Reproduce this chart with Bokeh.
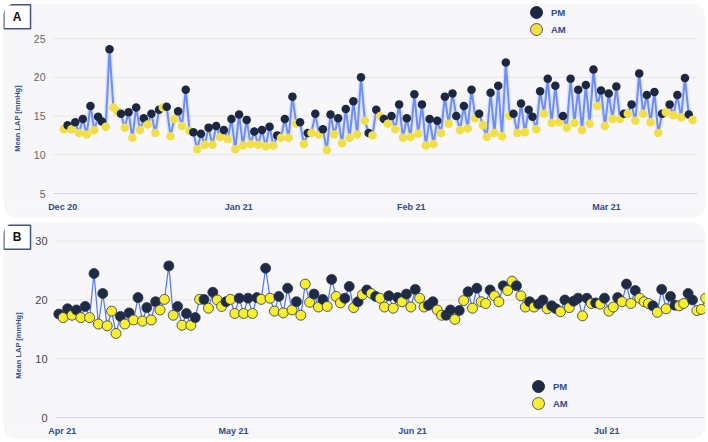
import math
from bokeh.plotting import figure
from bokeh.models import ColumnDataSource, Range1d, FixedTicker, Legend, LegendItem, Label
from bokeh.core.properties import value
from bokeh.layouts import column
from bokeh.embed import file_html
from bokeh.resources import INLINE

# ---------------- data ----------------
# Panel A (Dec 2020 - Mar 2021): sequence of readings, A = AM reading, P = PM reading
A_session = list("APAPAPAPAP" "PAPAAPAPAP" "APAPAPAPAA" "PAPAPAPAPA" "PAPAPAPAPA"
                 "PAPAPAPAPA" "PAPAPAPAPA" "PAPAPAPAPA" "PAPAPAPAPA" "PAPAPAPAPA"
                 "PAPPAPAPAP" "AAPAPAPAPA" "PAPPAPAPAP" "APAPAPAPAP" "APAPAPAPAP"
                 "APAPAPAPAP" "APAPPA")
A_lap = [13.3, 13.8, 13.3, 14.2, 12.8, 14.6, 12.6, 16.3, 13.2, 14.9,
         14.3, 13.6, 23.6, 16.1, 15.6, 15.3, 13.5, 15.5, 12.2, 16.1,
         13.2, 14.7, 13.9, 15.3, 12.8, 15.8, 16.1, 16.2, 12.4, 14.6,
         15.6, 13.7, 18.4, 13.1, 12.9, 10.7, 12.7, 11.3, 13.5, 11.3,
         13.7, 12.3, 13.2, 12.0, 14.6, 10.7, 15.2, 11.2, 14.5, 11.4,
         13.0, 11.3, 13.2, 11.1, 13.6, 11.2, 12.5, 12.2, 14.6, 12.2,
         17.5, 14.0, 14.2, 11.4, 12.8, 12.8, 15.3, 12.6, 13.3, 10.6,
         15.2, 12.6, 14.7, 11.5, 15.9, 12.2, 16.9, 12.6, 20.0, 14.4,
         12.8, 12.5, 15.8, 15.0, 14.6, 14.0, 15.0, 13.3, 16.5, 12.2,
         14.7, 12.3, 17.8, 12.7, 16.5, 11.2, 14.6, 11.4, 14.4, 12.8,
         17.5, 14.0, 17.9, 15.0, 13.2, 16.3, 13.4, 18.4, 14.7, 15.3,
         13.8, 12.3, 18.0, 12.8, 18.9, 12.4, 21.9, 15.0, 15.3, 12.8,
         16.6, 12.9, 15.8, 14.9, 13.3, 18.2, 15.3, 19.8, 14.1, 18.9,
         14.2, 15.0, 13.5, 19.8, 14.1, 18.4, 13.2, 19.0, 14.0, 21.0,
         16.3, 18.3, 13.7, 17.9, 14.6, 18.8, 14.6, 15.3, 15.3, 16.5,
         14.4, 20.5, 15.3, 17.7, 14.2, 18.1, 12.8, 15.3, 15.5, 16.5,
         15.1, 17.7, 14.8, 19.9, 15.2, 14.5]
A_tick_pos = [-0.3, 45.9, 91.2, 142.4]
A_tick_labels = ["Dec 20", "Jan 21", "Feb 21", "Mar 21"]
A_y_ticks = [5, 10, 15, 20, 25]

# Panel B (Apr 2021 - Jul 2021)
B_session = list("PAPAPAPAPA" "PAAAPAPAPA" "PAPAAPAPAP" "APAPAPAAPA" "APAPAPAPAA"
                 "PAPAPAAAPA" "PAPAAPPAPA" "PAPAAPAPAP" "APAAPPAAPP" "APAPAPAAPA"
                 "APAAPAAPAP" "PAPPAPAPPA" "PAPAPAAPAP" "APAAAPAPAP" "PAAPPAAA")
B_lap = [17.6, 17.0, 18.5, 17.4, 18.3, 17.0, 18.9, 17.0, 24.5, 15.9,
         21.1, 15.6, 18.1, 14.3, 17.2, 15.9, 17.8, 16.6, 20.4, 16.4,
         18.7, 16.6, 19.7, 18.3, 20.1, 25.8, 17.4, 18.9, 15.7, 17.7,
         15.7, 17.0, 20.1, 20.1, 18.6, 21.3, 20.0, 18.9, 19.7, 20.1,
         17.7, 20.3, 17.7, 20.3, 17.7, 20.4, 20.1, 25.4, 20.3, 18.1,
         20.6, 17.8, 22.0, 18.3, 19.7, 17.4, 22.7, 19.6, 21.0, 18.8,
         20.1, 18.9, 23.5, 20.6, 19.5, 20.3, 22.3, 18.7, 19.7, 20.9,
         21.7, 21.1, 20.6, 20.3, 18.8, 20.7, 18.6, 20.4, 19.7, 21.0,
         18.8, 21.8, 20.3, 18.8, 19.1, 19.7, 18.3, 17.4, 17.4, 18.3,
         16.7, 18.2, 19.9, 21.4, 18.6, 22.0, 19.7, 19.4, 21.7, 20.7,
         19.7, 22.4, 21.6, 23.2, 22.4, 20.7, 18.8, 19.7, 18.8, 19.3,
         20.0, 18.5, 19.0, 18.5, 18.0, 20.0, 18.7, 19.8, 20.3, 17.3,
         20.3, 19.4, 19.5, 19.3, 20.3, 18.1, 18.8, 20.4, 19.7, 22.7,
         19.4, 21.6, 20.3, 19.7, 19.4, 19.0, 17.9, 21.8, 18.5, 20.6,
         19.1, 19.0, 19.4, 21.1, 20.0, 18.2, 18.4, 20.3]
B_tick_pos = [0.8, 39.7, 80.4, 124.5]
B_tick_labels = ["Apr 21", "May 21", "Jun 21", "Jul 21"]
B_y_ticks = [0, 10, 20, 30]

# ---------------- style ----------------
BG = "#f7f7f9"
FONT = "Liberation Sans"
TITLE_COLOR = "#34528f"
XLAB_COLOR = "#2f4b8e"
ROUND = [":host { border-radius: 14px; overflow: hidden; }"]
Y_TITLE = "Mean LAP [mmHg]"
W = 702
BASE_GAP = 7   # px of frame kept below the baseline so its tick label is not clipped


def extend(lo, hi, px_lo, px_hi, px_total):
    """Range whose values lo/hi fall at pixel px_lo/px_hi of a px_total-long frame."""
    s = (hi - lo) / (px_hi - px_lo)
    return (lo - px_lo * s, lo + (px_total - px_lo) * s)


def make_panel(letter, session, lap, tick_pos, tick_labels, y_ticks, area_x, area_px,
               y_px, height, bottom, pm_color, am_color, marker_size, marker_line,
               line_color, line_width, glow, ytick_color, ytick_size, title_xy,
               letter_xy, legend_pm, legend_am):
    frame_h = height - bottom
    x_range = extend(area_x[0], area_x[1], area_px[0], area_px[1], W)
    y_range = extend(y_ticks[0], y_ticks[-1], BASE_GAP, BASE_GAP + y_px, frame_h)
    p = figure(width=W, height=height, output_backend="svg", toolbar_location=None,
               title=None, y_axis_location=None,
               x_range=Range1d(*x_range), y_range=Range1d(*y_range),
               min_border_left=0, min_border_right=0, min_border_top=0, min_border_bottom=bottom,
               background_fill_color=BG, border_fill_color=BG, outline_line_color=None,
               stylesheets=ROUND)
    p.grid.visible = False

    # horizontal grid lines across the plotting area, baseline in axis colour
    grid_y = y_ticks[1:]
    p.segment(x0=[area_x[0]] * len(grid_y), x1=[area_x[1]] * len(grid_y),
              y0=grid_y, y1=grid_y, line_color="#e6e6e6", line_width=1)
    p.segment(x0=[area_x[0]], x1=[area_x[1]], y0=[y_ticks[0]], y1=[y_ticks[0]],
              line_color="#ccd6eb", line_width=1)
    # y tick labels
    p.text(x=[area_x[0]] * len(y_ticks), y=y_ticks, text=[str(t) for t in y_ticks],
           x_offset=-8, text_align="right", text_baseline="middle",
           text_font=value(FONT), text_font_size=ytick_size, text_color=ytick_color)

    n = len(lap)
    xs = list(range(n))
    colors = [pm_color if s == "P" else am_color for s in session]
    src = ColumnDataSource(dict(x=xs, y=lap, c=colors))

    if glow:
        p.line("x", "y", source=src, line_width=5, line_color=line_color, line_alpha=0.18)
    p.line("x", "y", source=src, line_width=line_width, line_color=line_color)
    p.scatter("x", "y", source=src, size=marker_size, fill_color="c",
              line_color=marker_line, line_width=0.8)

    # legend-only renderers (a single NaN point, never visible in the plot)
    nan_src = ColumnDataSource(dict(x=[float("nan")], y=[float("nan")]))
    r_pm = p.scatter("x", "y", source=nan_src, size=12, fill_color=pm_color, line_color=pm_color)
    r_am = p.scatter("x", "y", source=nan_src, size=12, fill_color=am_color, line_color="#2a3350",
                     line_width=0.8)
    for lab, rend, loc in (("PM", r_pm, legend_pm), ("AM", r_am, legend_am)):
        leg = Legend(items=[LegendItem(label=lab, renderers=[rend])],
                     location=loc, orientation="vertical",
                     background_fill_alpha=0, border_line_color=None,
                     glyph_width=30, glyph_height=30, label_height=30,
                     padding=0, margin=0, label_standoff=0,
                     label_text_font=FONT, label_text_font_style="bold",
                     label_text_font_size="9.5px", label_text_color=XLAB_COLOR)
        p.add_layout(leg)

    # y-axis title
    p.add_layout(Label(x=title_xy[0], y=title_xy[1], x_units="screen", y_units="screen",
                       text=Y_TITLE, angle=math.pi / 2, text_align="center",
                       text_baseline="middle", text_font=FONT, text_font_style="bold",
                       text_font_size="7.5px", text_color=TITLE_COLOR))
    # panel letter in a framed white box
    p.add_layout(Label(x=letter_xy[0], y=letter_xy[1], x_units="screen", y_units="screen",
                       text=letter, text_align="center", text_baseline="middle",
                       text_font=FONT, text_font_style="bold", text_font_size="12px",
                       text_color="#111111", background_fill_color="white",
                       border_line_color="#44557f", border_line_width=1.5,
                       padding=(9, 5)))

    # x axis (line drawn as the baseline segment above)
    p.xaxis.ticker = FixedTicker(ticks=tick_pos)
    p.xaxis.major_label_overrides = {t: l for t, l in zip(tick_pos, tick_labels)}
    p.xaxis.axis_line_color = None
    p.xaxis.major_tick_line_color = None
    p.xaxis.minor_tick_line_color = None
    p.xaxis.major_tick_out = 0
    p.xaxis.major_tick_in = 0
    p.xaxis.minor_tick_out = 0
    p.xaxis.major_label_text_font = FONT
    p.xaxis.major_label_text_font_style = "bold"
    p.xaxis.major_label_text_font_size = "9px"
    p.xaxis.major_label_text_color = XLAB_COLOR
    p.xaxis.major_label_standoff = 1
    return p


pA = make_panel("A", A_session, A_lap, A_tick_pos, A_tick_labels, A_y_ticks,
                (-2.7, 166.3), (50, 694), 155, 215, 18,
                "#1c2742", "#f2de47", 8.5, None, "#6f8ef3", 2, True,
                "#666666", "10.5px", (14, 82), (13.7, 183.8), (518, 173), (518, 156))

pB = make_panel("B", B_session, B_lap, B_tick_pos, B_tick_labels, B_y_ticks,
                (-0.75, 146.5), (52, 700), 176.3, 217, 15,
                "#1f2a45", "#f7ef2d", 10, "#2a3350", "#5274f0", 1.2, False,
                "#444444", "11px", (15, 79), (13.7, 187.3), (520, 23), (520, 6))

layout = column(pA, pB, spacing=4, margin=(3, 0, 0, 3))
open("out.html", "w").write(file_html(layout, INLINE))
